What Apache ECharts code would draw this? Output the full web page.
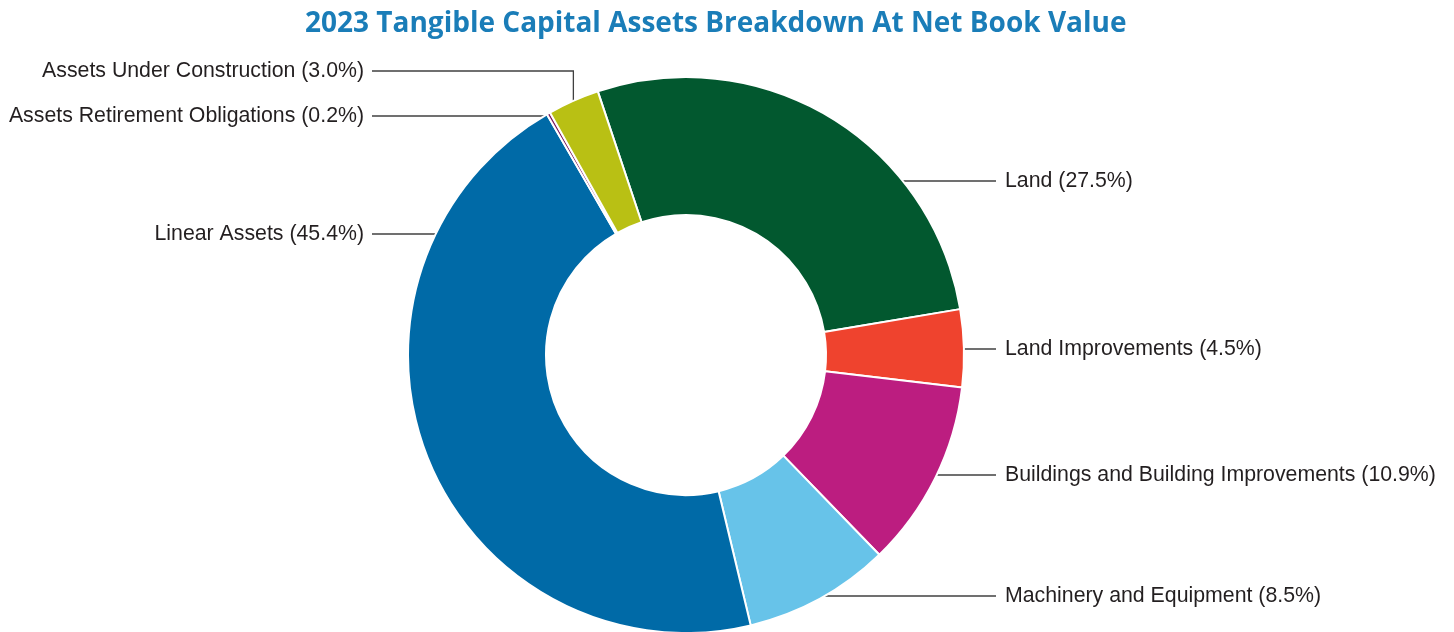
<!DOCTYPE html>
<html>
<head>
<meta charset="utf-8">
<script src="https://cdn.jsdelivr.net/npm/echarts@6/dist/echarts.min.js"></script>
<style>
  html, body { margin: 0; padding: 0; background: #ffffff; }
  #chart { width: 1454px; height: 632px; }
</style>
</head>
<body>
<div id="chart"></div>
<script>
// ---- data ----
const categories = [
  'Land',
  'Land Improvements',
  'Buildings and Building Improvements',
  'Machinery and Equipment',
  'Linear Assets',
  'Assets Retirement Obligations',
  'Assets Under Construction'
];
const values = [27.5, 4.5, 10.9, 8.5, 45.4, 0.2, 3.0];
const colors = ['#02582f', '#ef432e', '#bc1d80', '#67c3e9', '#006aa7', '#7c1a5e', '#b9c014'];

// ---- layout (positions of labels, not data) ----
const CX = 686, CY = 355, R = 278, R0 = 140;
const START = 108.5;                 // degrees, ECharts convention
const labelY = [181, 349, 475, 596, 234, 116, 71];
const RIGHT_LINE_END = 996, RIGHT_TEXT_X = 1005;
const LEFT_LINE_END = 372, LEFT_TEXT_X = 364;

const total = values.reduce((a, b) => a + b, 0);
function midAngleRad(i) {
  let cum = 0;
  for (let k = 0; k < i; k++) cum += values[k];
  cum += values[i] / 2;
  return (START - cum / total * 360) * Math.PI / 180;
}

const chart = echarts.init(document.getElementById('chart'), null, { renderer: 'canvas' });

chart.setOption({
  animation: false,
  backgroundColor: '#ffffff',
  title: {
    text: '2023 Tangible Capital Assets Breakdown At Net Book Value',
    left: 300,
    top: 5,
    textStyle: {
      fontFamily: 'Open Sans',
      fontWeight: 'bold',
      fontSize: 28,
      color: '#1a7db8'
    }
  },
  series: [{
    type: 'pie',
    center: [CX, CY],
    radius: [R0, R],
    startAngle: START,
    clockwise: true,
    avoidLabelOverlap: false,
    itemStyle: { borderColor: '#ffffff', borderWidth: 2 },
    label: {
      show: true,
      position: 'outside',
      fontFamily: 'Liberation Sans, Arial, sans-serif',
      fontSize: 21.3,
      color: '#231f20',
      formatter: p => p.name + ' (' + values[p.dataIndex].toFixed(1) + '%)'
    },
    labelLine: {
      show: true,
      lineStyle: { color: '#404040', width: 1.3 }
    },
    labelLayout: function (params) {
      const i = params.dataIndex;
      const a = midAngleRad(i);
      const mx = CX + R * Math.cos(a);
      const my = CY - R * Math.sin(a);
      const side = (i <= 3) ? 1 : -1;
      const ly = labelY[i];
      const endX = side > 0 ? RIGHT_LINE_END : LEFT_LINE_END;
      let pts;
      const dy = ly - CY;
      if (Math.abs(dy) < R - 2) {
        const sx = CX + side * Math.sqrt(R * R - dy * dy);
        pts = [[sx, ly], [(sx + endX) / 2, ly], [endX, ly]];
      } else {
        pts = [[mx, my], [mx, ly], [endX, ly]];
      }
      return {
        x: side > 0 ? RIGHT_TEXT_X : LEFT_TEXT_X,
        y: ly,
        align: side > 0 ? 'left' : 'right',
        verticalAlign: 'middle',
        labelLinePoints: pts
      };
    },
    data: categories.map((name, i) => ({
      name: name,
      value: values[i],
      itemStyle: { color: colors[i] }
    }))
  }]
});
</script>
</body>
</html>
